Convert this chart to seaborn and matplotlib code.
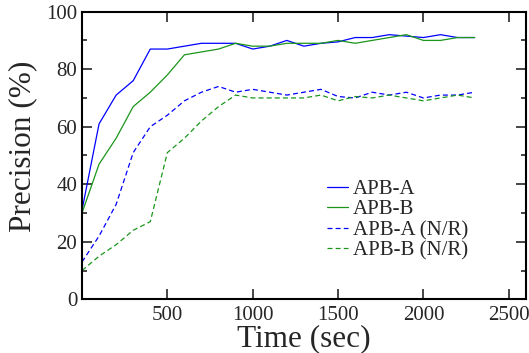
import matplotlib
matplotlib.use('Agg')
import matplotlib.pyplot as plt
import pandas as pd
import seaborn as sns
from matplotlib.ticker import MultipleLocator

# Data
time_sec = [0, 100, 200, 300, 400, 500, 600, 700, 800, 900, 1000, 1100,
            1200, 1300, 1400, 1500, 1600, 1700, 1800, 1900, 2000, 2100,
            2200, 2300]
apb_a = [31, 61, 71, 76, 87, 87, 88, 89, 89, 89, 87, 88,
         90, 88, 89, 89.5, 91, 91, 92, 91.5, 91, 92, 91, 91]
apb_b = [30, 47, 56, 67, 72, 78, 85, 86, 87, 89, 88, 88,
         89, 89, 89, 90, 89, 90, 91, 92, 90, 90, 91, 91]
apb_a_nr = [13, 22, 33, 51, 60, 64, 69, 72, 74, 72, 73, 72,
            71, 72, 73, 70.5, 70, 72, 71, 72, 70, 71, 71, 72]
apb_b_nr = [10, 15, 19, 24, 27, 51, 56, 62, 67, 71, 70, 70,
            70, 70, 71, 69, 70.5, 70, 71, 70, 69, 70, 71, 70]

series_names = ["APB-A", "APB-B", "APB-A (N/R)", "APB-B (N/R)"]
series_vals = [apb_a, apb_b, apb_a_nr, apb_b_nr]

rows = []
for name, vals in zip(series_names, series_vals):
    for t, v in zip(time_sec, vals):
        rows.append({"time": t, "precision": v, "series": name})
df = pd.DataFrame(rows)

sns.set_style("ticks")
plt.rcParams['font.family'] = ['Liberation Serif', 'DejaVu Serif']

blue = "#0000ff"
green = "#1a961a"
palette = {"APB-A": blue, "APB-B": green, "APB-A (N/R)": blue, "APB-B (N/R)": green}
dashes = {"APB-A": "", "APB-B": "", "APB-A (N/R)": (4, 2.5), "APB-B (N/R)": (4, 2.5)}

fig = plt.figure(figsize=(5.29, 3.53), dpi=100)
ax = fig.add_axes([0.155, 0.152, 0.839, 0.815])

sns.lineplot(data=df, x="time", y="precision", hue="series", style="series",
             palette=palette, dashes=dashes, hue_order=series_names,
             style_order=series_names, linewidth=0.9, ax=ax)

ax.set_xlim(0, 2600)
ax.set_ylim(0, 100)
ax.set_xticks([500, 1000, 1500, 2000, 2500])
ax.yaxis.set_major_locator(MultipleLocator(20))
ax.yaxis.set_minor_locator(MultipleLocator(10))
ax.tick_params(which='both', direction='in', top=True, right=True,
               labelsize=15, width=1.2)
ax.tick_params(which='major', length=7)
ax.tick_params(which='minor', length=3.6)
ax.tick_params(axis='x', pad=5)
for s in ax.spines.values():
    s.set_linewidth(1.5)
    s.set_color('black')

ax.set_xlabel("Time (sec)", fontsize=22.5, labelpad=-1)
ax.set_ylabel("Precision (%)", fontsize=22.5)
ax.yaxis.set_label_coords(-0.1, 0.533)

handles, labels = ax.get_legend_handles_labels()
ax.legend(handles, labels, loc='center left', bbox_to_anchor=(0.552, 0.276),
          frameon=False, fontsize=15, handlelength=1.0, handletextpad=0.25,
          labelspacing=0.05, borderaxespad=0, borderpad=0)

fig.savefig("out.png", dpi=100)
